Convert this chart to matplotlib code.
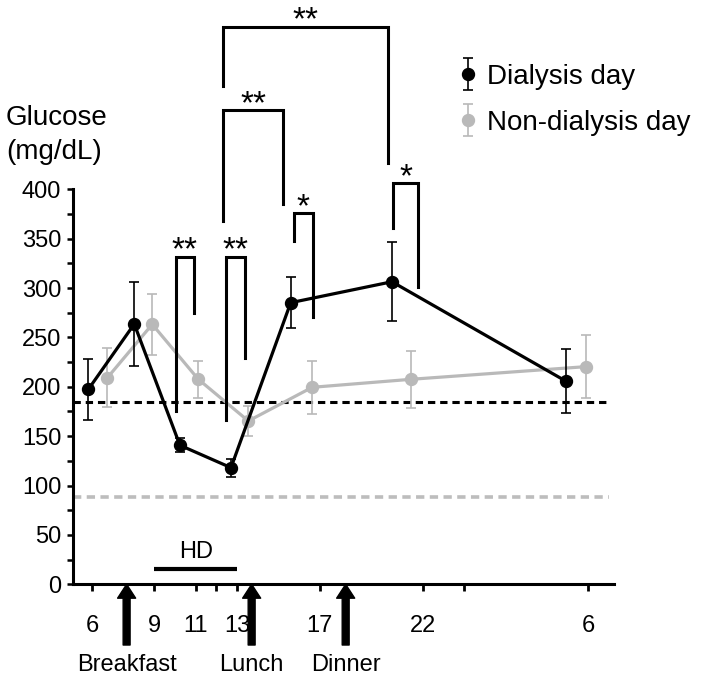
import matplotlib
matplotlib.use('Agg')
import matplotlib.pyplot as plt
from matplotlib.ticker import MultipleLocator
from matplotlib.container import ErrorbarContainer
from matplotlib.legend_handler import HandlerErrorbar

plt.rcParams['font.family'] = ['Liberation Sans', 'DejaVu Sans']

# time in hours after midnight of the day (next morning 6 -> 30)
dial_t = [5.81, 8.03, 10.24, 12.71, 15.6, 20.5, 28.9]
dial_glu = [197.5, 263.6, 140.8, 118.1, 285.2, 306.4, 205.9]
dial_err = [31, 43, 7, 9, 26, 40, 32]

non_t = [6.73, 8.9, 11.13, 13.55, 16.64, 21.42, 29.87]
non_glu = [209.2, 263.3, 207.6, 165.4, 199.5, 207.6, 220.4]
non_err = [30, 31, 19, 15, 27, 29, 32]

tick_hours = [6, 9, 11, 13, 17, 22, 30]
tick_labels = ['6', '9', '11', '13', '17', '22', '6']
minor_hours = [12, 24]

meals = ['Breakfast', 'Lunch', 'Dinner']
meal_t = [7.66, 13.71, 18.26]

hd_start, hd_end = 9.0, 13.0
ref_dial = 184.3
ref_non = 88.0

# significance brackets: left x, right x, top, left leg end, right leg end, mark
brackets = [
    (10.03, 10.93, 331.7, 175.8, 275.0, '**'),
    (12.45, 13.39, 331.7, 166.4, 228.9, '**'),
    (15.76, 16.66, 375.7, 348.0, 271.0, '*'),
    (12.34, 15.24, 480.3, 368.2, 384.8, '**'),
    (12.34, 20.29, 564.7, 504.6, 426.9, '**'),
    (20.56, 21.77, 406.1, 360.5, 301.4, '*'),
]

BLACK = '#000000'
GRAY = '#b9b9b9'

fig = plt.figure(figsize=(7.08, 6.81), dpi=100)
ax = fig.add_axes([0.1031, 0.142, 0.764, 0.580])
ax.set_xlim(5.065, 31.24)
ax.set_ylim(0, 400)

# reference lines
ax.plot([5.065, 31.0], [ref_non, ref_non], color='#bdbdbd', lw=2.6,
        linestyle=(0, (2.3, 1.5)), zorder=1)
ax.plot([5.065, 31.0], [ref_dial, ref_dial], color=BLACK, lw=2.2,
        linestyle=(0, (2.4, 1.6)), zorder=1)

# series
ax.plot(non_t, non_glu, color=GRAY, lw=2.3, zorder=3)
eb_non = ax.errorbar(non_t, non_glu, yerr=non_err, fmt='o', ms=8.6, color=GRAY,
                     mec=GRAY, ecolor=GRAY, elinewidth=1.2, capsize=3.5,
                     capthick=1.2, label='Non-dialysis day', zorder=3)
ax.plot(dial_t, dial_glu, color=BLACK, lw=2.3, zorder=4)
eb_dial = ax.errorbar(dial_t, dial_glu, yerr=dial_err, fmt='o', ms=8.6, color=BLACK,
                      mec=BLACK, ecolor=BLACK, elinewidth=1.2, capsize=3.5,
                      capthick=1.2, label='Dialysis day', zorder=4)

# axes styling
for side in ['top', 'right']:
    ax.spines[side].set_visible(False)
for side in ['left', 'bottom']:
    ax.spines[side].set_linewidth(2.2)

ax.set_xticks(tick_hours)
ax.set_xticklabels(tick_labels)
ax.set_xticks(minor_hours, minor=True)
ax.set_yticks(range(0, 401, 50))
ax.yaxis.set_minor_locator(MultipleLocator(25))
ax.tick_params(axis='x', which='both', direction='out', length=5, width=2,
               pad=17, labelsize=17)
ax.tick_params(axis='y', which='both', direction='out', length=4.5, width=1.8,
               pad=4, labelsize=17)

fig.text(6 / 708, 1 - 118 / 681, 'Glucose', fontsize=20, ha='left', va='center')
fig.text(6 / 708, 1 - 152 / 681, '(mg/dL)', fontsize=20, ha='left', va='center')

# significance brackets
for x1, x2, top, yl, yr, mark in brackets:
    ax.plot([x1, x1, x2, x2], [yl, top, top, yr], color=BLACK, lw=2.2,
            clip_on=False, solid_joinstyle='miter', zorder=5)
    ax.annotate(mark, ((x1 + x2) / 2, top), xytext=(0, -2), textcoords='offset points',
                ha='center', va='baseline', fontsize=24, annotation_clip=False)

# HD period
ax.plot([hd_start, hd_end], [15.5, 15.5], color=BLACK, lw=3, solid_capstyle='butt')
ax.text((hd_start + hd_end) / 2, 33, 'HD', ha='center', va='center', fontsize=17)

# meals
for name, t in zip(meals, meal_t):
    ax.annotate('', xy=(t, 0), xytext=(t, -61.5),
                arrowprops=dict(facecolor=BLACK, edgecolor=BLACK, width=5,
                                headwidth=13, headlength=10, shrink=0),
                annotation_clip=False)
    ax.text(t, -82, name, ha='center', va='center', fontsize=17, clip_on=False)

fig.legend(handles=[eb_dial, eb_non], loc='upper left', bbox_to_anchor=(0.645, 0.906),
           frameon=False, fontsize=20, handlelength=0.8, handletextpad=0.3,
           labelspacing=0.72, borderaxespad=0, borderpad=0,
           handler_map={ErrorbarContainer: HandlerErrorbar(yerr_size=0.58)})

fig.savefig('out.png', dpi=100)
